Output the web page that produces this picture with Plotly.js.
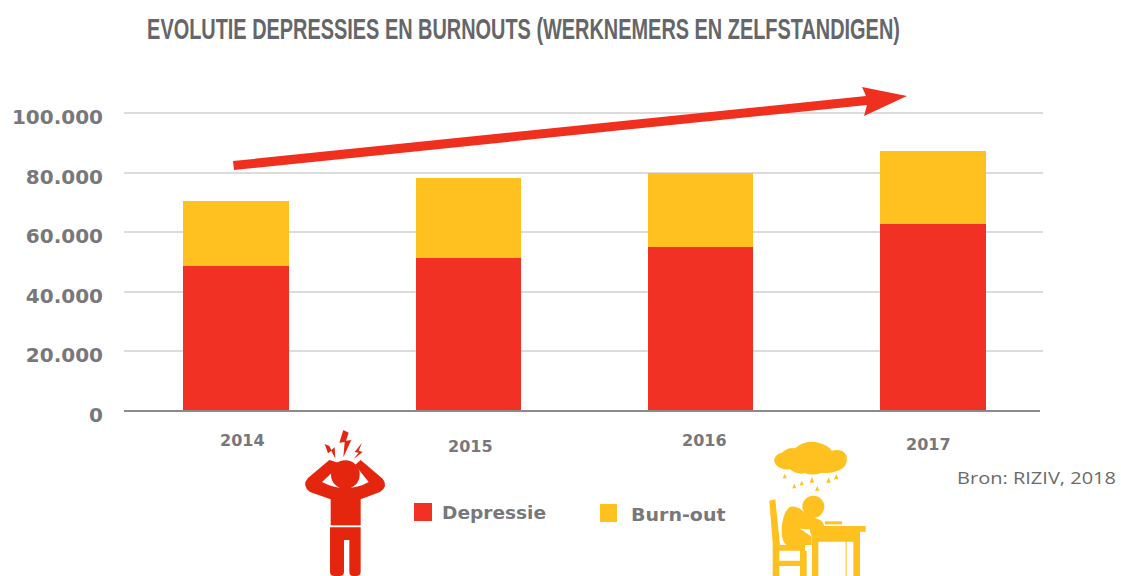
<!DOCTYPE html>
<html><head><meta charset="utf-8">
<script src="https://cdn.plot.ly/plotly-3.0.1.min.js"></script>
<style>html,body{margin:0;padding:0;background:#fff}#c{width:1121px;height:576px}</style></head>
<body><div id="c"></div>
<script>
const years = ['2014','2015','2016','2017'];
const depressie = [48700,51300,55000,62800];
const burnout = [21800,26900,24900,24400];
const yTicks = [0,20000,40000,60000,80000,100000];
const yLabels = ['0','20.000','40.000','60.000','80.000','100.000'];
const W=1121,H=576;
const RED='#f03124',YEL='#fec11f',GREY='#77777c';
const px=x=>x/W, py=y=>1-y/H;
const poly=pts=>'M'+pts.map(p=>px(p[0]).toFixed(5)+','+py(p[1]).toFixed(5)).join(' L')+' Z';
const manIcon=`<svg xmlns="http://www.w3.org/2000/svg" viewBox="0 0 360 468" width="360" height="468"><g fill="#e5260f" stroke="none">
<circle cx="166" cy="164" r="43"/>
<path d="M122 235 H212 V316 H122Z"/><path d="M120 322 H212 V455 Q212 468 198 468 H190 Q178 468 178 455 V360 H162 V455 Q162 468 148 468 H134 Q120 468 120 455Z"/>
<path d="M122 238 L60 216 Q34 196 54 174 L118 120 L145 128 L132 152 L96 186 Q130 204 165 204 Q205 204 236 186 L195 135 L212 120 L278 176 Q296 198 270 216 L212 238Z"/>
<path d="M160 30 L148 68 L164 66 L160 112 L184 60 L168 62 L176 38Z"/>
<path d="M104 72 L114 100 L124 92 L136 116 L134 82 L124 90 L118 78Z"/>
<path d="M216 68 L194 96 L206 98 L190 118 L218 96 L206 92Z"/></g></svg>`;
const deskIcon=`<svg xmlns="http://www.w3.org/2000/svg" viewBox="0 0 390 438" width="390" height="438"><g fill="#fec11f" stroke="none">
<path d="M95 68 Q115 50 135 55 Q165 28 205 38 Q235 45 245 62 Q280 55 290 78 Q295 112 265 122 Q240 132 215 128 Q190 138 165 130 Q140 135 120 118 Q80 120 72 92 Q75 72 95 68Z"/>
<path d="M98 145 h12 l-6 -14z"/><path d="M127 175 h12 l-6 -14z"/><path d="M149 166 h12 l-6 -14z"/><path d="M179 158 h13 l-6 -18z"/><path d="M229 158 h13 l-6 -16z"/><path d="M252 148 h13 l-6 -16z"/><path d="M195 182 h13 l-6 -14z"/>
<circle cx="190" cy="230" r="33"/>
<path d="M58 212 L76 208 L90 345 H165 V362 H88 V392 H150 V362 H170 V438 H150 V408 H88 V438 H68 V340Z"/>
<path d="M120 230 Q145 225 165 250 L205 268 Q225 275 222 298 L170 298 L150 296 L185 320 V345 H110 Q95 335 95 305 Q95 250 120 230Z"/>
<path d="M225 274 H276 V283 H225Z"/>
<path d="M180 288 H347 V305 H330 V438 H310 V335 H290 V438 H287 V335 H205 V438 H186 V320 L180 305Z"/></g></svg>`;
const uri=s=>'data:image/svg+xml;base64,'+btoa(s);
const xLabelPos=[[242,440],[470,446],[704,440],[928,444]];
const traces=[
 {type:'bar',name:'Depressie',x:years,y:depressie,marker:{color:RED},showlegend:false,hoverinfo:'x+y'},
 {type:'bar',name:'Burn-out',x:years,y:burnout,marker:{color:YEL},showlegend:false,hoverinfo:'x+y'}
];
const ann=(t,x,y,font,o)=>Object.assign({text:t,xref:'paper',yref:'paper',x:px(x),y:py(y),xanchor:'center',yanchor:'middle',showarrow:false,font:font},o||{});
const bold=s=>({family:'"DejaVu Sans"',size:s,color:GREY,weight:700});
const TITLE='EVOLUTIE DEPRESSIES EN BURNOUTS (WERKNEMERS EN ZELFSTANDIGEN)';
const fit={};
fit[TITLE]=[147,753];
fit['Depressie']=[442,104];
fit['Burn-out']=[631,95];
fit['Bron: RIZIV, 2018']=[957,159];
const layout={
 width:W,height:H,margin:{l:0,r:0,t:0,b:0},paper_bgcolor:'#fff',plot_bgcolor:'#fff',
 barmode:'stack',bargap:0.546,showlegend:false,
 xaxis:{domain:[124/W,1043/W],type:'category',range:[-0.482,3.473],showticklabels:false,ticks:'',showgrid:false,zeroline:false,showline:false},
 yaxis:{domain:[py(411),py(411-298*1.05)],range:[0,105000],tickvals:yTicks,ticktext:yLabels,ticks:'',ticklabelstandoff:20,ticklabelshift:4,
  tickfont:bold(20),
  showgrid:true,gridcolor:'#dcdcdc',gridwidth:2,zeroline:false,showline:false},
 shapes:[
  {type:'line',xref:'paper',yref:'paper',x0:px(124),x1:px(1040),y0:py(411),y1:py(411),line:{color:'#8a8a8a',width:2},layer:'above'},
  {type:'path',xref:'paper',yref:'paper',path:poly([[233,161],[866,96],[862,87],[907,96],[864,116],[867,105],[234,170]]),fillcolor:'#f0301f',line:{width:0},layer:'above'},
  {type:'rect',xref:'paper',yref:'paper',x0:px(414),x1:px(432),y0:py(503),y1:py(521),fillcolor:RED,line:{width:0}},
  {type:'rect',xref:'paper',yref:'paper',x0:px(600),x1:px(617),y0:py(504),y1:py(522),fillcolor:YEL,line:{width:0}}
 ],
 annotations:[
  ann(TITLE,524,29,{family:'"Liberation Sans"',size:30,color:'#66666a',weight:700}),
  ...years.map((y,i)=>ann(y,xLabelPos[i][0],xLabelPos[i][1],bold(16))),
  ann('Depressie',494,512,bold(18)),
  ann('Burn-out',678,514,bold(18)),
  ann('Bron: RIZIV, 2018',1036,477,{family:'"Open Sans"',size:17,color:'#6a6a6a'})
 ],
 images:[
  {source:uri(manIcon),xref:'paper',yref:'paper',x:px(290),y:py(420),sizex:120/W,sizey:156/H,xanchor:'left',yanchor:'top',sizing:'stretch',layer:'above'},
  {source:uri(deskIcon),xref:'paper',yref:'paper',x:px(750),y:py(430),sizex:130/W,sizey:146/H,xanchor:'left',yanchor:'top',sizing:'stretch',layer:'above'}
 ]
};
Plotly.newPlot('c',traces,layout,{displayModeBar:false,staticPlot:true}).then(()=>{
 document.querySelectorAll('.annotation-text').forEach(el=>{
  const f=fit[el.textContent];
  if(!f) return;
  const r0=el.getBoundingClientRect();
  const sx=f[1]/r0.width;
  const cx=parseFloat(el.getAttribute('x'))||0;
  const dx=f[0]+f[1]/2-(r0.left+r0.width/2);
  el.setAttribute('transform','translate('+dx+',0) translate('+cx+',0) scale('+sx+',1) translate('+(-cx)+',0)');
 });
});
</script></body></html>
